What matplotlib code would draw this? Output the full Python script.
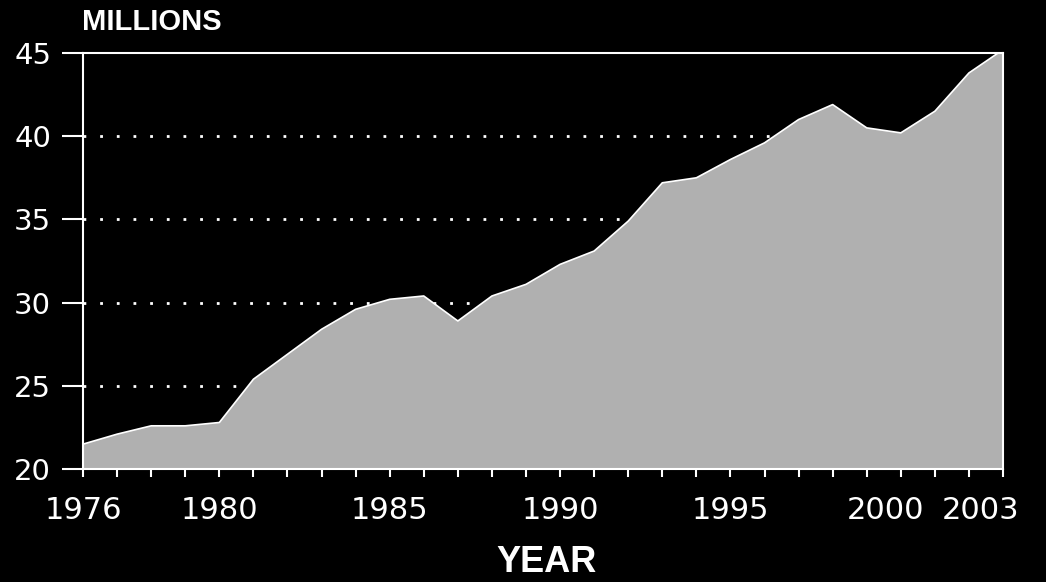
import matplotlib
matplotlib.use("Agg")
import matplotlib.pyplot as plt
import matplotlib.transforms as mtransforms

years = list(range(1976, 2004))
millions = [21.5, 22.1, 22.6, 22.6, 22.8, 25.4, 26.9, 28.4, 29.6, 30.2,
            30.4, 28.9, 30.4, 31.1, 32.3, 33.1, 34.9, 37.2, 37.5, 38.6,
            39.6, 41.0, 41.9, 40.5, 40.2, 41.5, 43.8, 45.2]
y_ticks = [20, 25, 30, 35, 40, 45]
grid_levels = [25, 30, 35, 40]
x_labels = ["1976", "1980", "1985", "1990", "1995", "2000", "2003"]
x_label_years = [1976, 1980, 1985, 1990, 1995, 1999.55, 2002.35]

plt.rcParams["font.family"] = ["DejaVu Sans"]

fig = plt.figure(figsize=(10.46, 5.82), dpi=100, facecolor="black")
ax = fig.add_axes([0.0794, 0.194, 0.8795, 0.715])
ax.set_facecolor("black")

# dotted guide lines behind the area
for g in grid_levels:
    ax.axhline(g, color="white", linestyle=(0, (1, 5)), linewidth=2, zorder=1)

ax.fill_between(years, 20, millions, facecolor="#b0b0b0", edgecolor="none", zorder=2)
ax.plot(years, millions, color="white", linewidth=1.2, zorder=3)

ax.set_xlim(1976, 2003)
ax.set_ylim(20, 45)

for side in ["left", "top", "bottom", "right"]:
    ax.spines[side].set_color("white")
    ax.spines[side].set_linewidth(1.5)
    ax.spines[side].set_zorder(4)

ax.set_yticks(y_ticks)
ax.set_yticklabels([str(v) for v in y_ticks])
ax.tick_params(axis="y", colors="white", length=15, width=1.5, pad=8, labelsize=21)

ax.set_xticks(years)
ax.set_xticklabels([])
ax.tick_params(axis="x", colors="white", length=6, width=1.5, direction="out")

lab_trans = mtransforms.blended_transform_factory(ax.transData, ax.transAxes)
for lab, xv in zip(x_labels, x_label_years):
    ax.text(xv, -0.065, lab, transform=lab_trans, ha="center", va="top",
            color="white", fontsize=22)

fig.text(0.0784, 0.962, "MILLIONS", color="white", fontsize=21,
         fontweight="bold", ha="left", va="center",
         family=["Liberation Sans", "DejaVu Sans"])
fig.text(0.522, 0.033, "YEAR", color="white", fontsize=26,
         fontweight="bold", ha="center", va="center",
         family=["Liberation Sans", "DejaVu Sans"])

fig.savefig("out.png", dpi=100, facecolor="black")
